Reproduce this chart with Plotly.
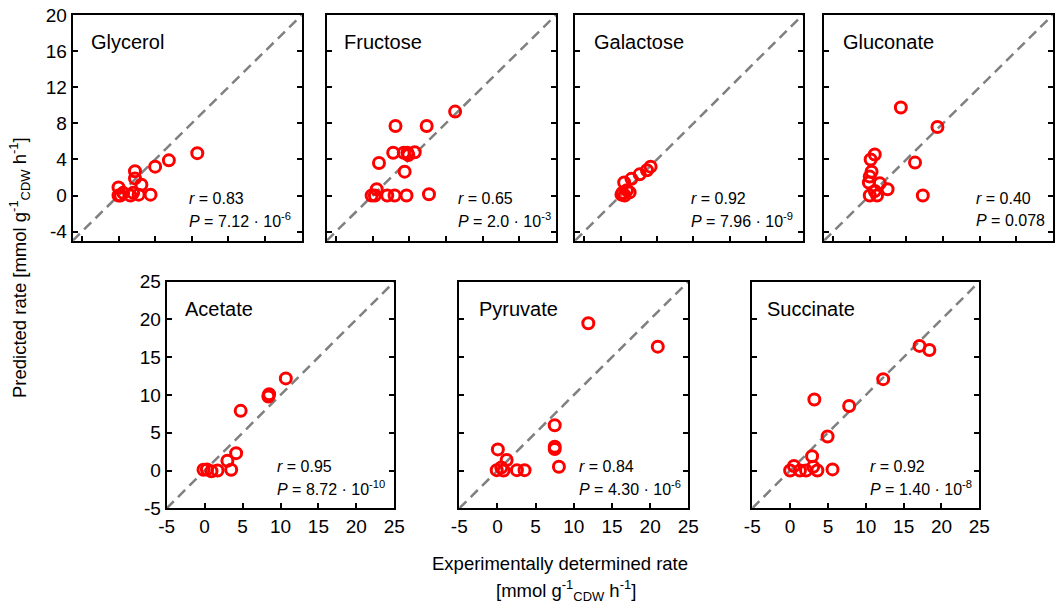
import plotly.graph_objects as go

# ---------------- data ----------------
names = ["Glycerol", "Fructose", "Galactose", "Gluconate", "Acetate", "Pyruvate", "Succinate"]

glycerol_x = [8.6, 5.5, 4.0, 1.8, 1.8, 2.5, 3.5, 0.0, 0.5, 0.0, 1.3, 2.2, 0.2, 1.6]
glycerol_y = [4.7, 3.9, 3.2, 2.7, 1.9, 1.2, 0.1, 0.9, 0.3, 0.0, 0.0, 0.1, 0.0, 0.3]

fructose_x = [9.0, 5.9, 2.5, 2.25, 3.4, 3.9, 4.6, 3.8, 0.7, 3.5, 0.45, -0.1, 0.25, 1.6, 2.4, 3.7, 6.15]
fructose_y = [9.3, 7.7, 7.7, 4.75, 4.75, 4.5, 4.8, 4.75, 3.6, 2.65, 0.7, 0.0, 0.0, 0.0, 0.0, 0.0, 0.15]

galactose_x = [3.3, 2.9, 2.1, 1.2, 0.4, 1.0, 0.1, 0.45, 0.2, 0.7]
galactose_y = [3.2, 2.8, 2.35, 1.85, 1.45, 0.35, 0.1, 0.0, 0.3, 0.6]

gluconate_x = [3.4, 7.4, 4.95, 5.8, 0.55, 0.1, 0.2, 0.0, -0.1, 1.1, 1.95, 0.55, 0.0, 0.8]
gluconate_y = [9.75, 7.6, 3.65, 0.0, 4.55, 4.0, 2.65, 2.1, 1.45, 1.35, 0.7, 0.5, 0.0, 0.0]

acetate_x = [10.7, 8.5, 8.4, 4.75, 4.15, 3.0, 3.5, 1.7, 0.3, -0.15, 0.9]
acetate_y = [12.2, 10.1, 9.8, 7.9, 2.3, 1.3, 0.1, 0.0, 0.15, 0.1, -0.1]

pyruvate_x = [11.9, 21.0, 7.5, 7.5, 7.5, 8.05, 0.05, 1.2, 3.55, 2.55, 0.5, -0.1, 0.8]
pyruvate_y = [19.5, 16.4, 6.0, 3.15, 2.85, 0.5, 2.8, 1.4, 0.05, 0.05, 0.4, 0.05, 0.0]

succinate_x = [17.1, 18.4, 12.3, 3.2, 7.8, 4.95, 2.9, 3.05, 0.5, 0.0, 1.3, 2.1, 3.6, 5.6]
succinate_y = [16.5, 15.95, 12.1, 9.4, 8.55, 4.5, 1.9, 0.5, 0.6, 0.0, 0.0, 0.0, 0.0, 0.15]

r_labels = ["0.83", "0.65", "0.92", "0.40", "0.95", "0.84", "0.92"]
p_labels = ["7.12 · 10<sup>-6</sup>", "2.0 · 10<sup>-3</sup>", "7.96 · 10<sup>-9</sup>", "0.078",
            "8.72 · 10<sup>-10</sup>", "4.30 · 10<sup>-6</sup>", "1.40 · 10<sup>-8</sup>"]

top_range = [-5, 20]
top_ticks = [-4, 0, 4, 8, 12, 16, 20]
top_ticktext = ["-4", "0", "4", "8", "12", "16", "20"]
bottom_range = [-5, 25]
bottom_ticks = [-5, 0, 5, 10, 15, 20, 25]
bottom_ticktext = ["-5", "0", "5", "10", "15", "20", "25"]

xs = [glycerol_x, fructose_x, galactose_x, gluconate_x, acetate_x, pyruvate_x, succinate_x]
ys = [glycerol_y, fructose_y, galactose_y, gluconate_y, acetate_y, pyruvate_y, succinate_y]

# ---------------- layout geometry ----------------
W, H = 1056, 605
top_px = [(72.7, 301.7), (326.7, 556.0), (575.0, 802.7), (824.0, 1052.7)]
bot_px = [(166.7, 394.3), (459.3, 688.3), (752.3, 979.3)]
top_y_px = (15.0, 240.7)
bot_y_px = (281.7, 508.3)

def xd(a, b):
    return [a / W, b / W]

def yd(t, b):
    return [1 - b / H, 1 - t / H]

domains = []
for a, b in top_px:
    domains.append((xd(a, b), yd(*top_y_px)))
for a, b in bot_px:
    domains.append((xd(a, b), yd(*bot_y_px)))

r_xpos = [0.50, 0.563, 0.50, 0.656, 0.475, 0.513, 0.511]
title_xpos = [0.072, 0.068, 0.073, 0.073, 0.07, 0.079, 0.056]

FONT = "Liberation Sans, Arial, sans-serif"
fig = go.Figure()
annotations = []
layout = {}

for i in range(7):
    idx = "" if i == 0 else str(i + 1)
    xa = "x" + idx
    ya = "y" + idx
    top = i < 4
    rng = top_range if top else bottom_range
    ticks = top_ticks if top else bottom_ticks
    ttext = top_ticktext if top else bottom_ticktext
    fig.add_trace(go.Scatter(x=rng, y=rng, mode="lines", xaxis=xa, yaxis=ya,
                             line=dict(color="#808080", width=2.5, dash="10px,6px"),
                             showlegend=False, hoverinfo="skip"))
    fig.add_trace(go.Scatter(x=xs[i], y=ys[i], mode="markers", xaxis=xa, yaxis=ya,
                             marker=dict(symbol="circle-open", size=11, color="#FF0000",
                                         line=dict(width=3, color="#FF0000")),
                             showlegend=False))
    show_x_labels = not top
    show_y_labels = (i == 0) or (i == 4)
    xdom, ydom = domains[i]
    layout["xaxis" + idx] = dict(domain=xdom, range=rng, tickvals=ticks, ticktext=ttext,
                                 showticklabels=show_x_labels, anchor=ya, automargin=False,
                                 showline=True, linecolor="black", linewidth=2.2, mirror=True,
                                 ticks="inside", ticklen=5, tickwidth=2, tickcolor="black",
                                 showgrid=False, zeroline=False,
                                 tickfont=dict(size=19, color="black", family=FONT))
    layout["yaxis" + idx] = dict(domain=ydom, range=rng, tickvals=ticks, ticktext=ttext,
                                 showticklabels=show_y_labels, anchor=xa, automargin=False,
                                 showline=True, linecolor="black", linewidth=2.2, mirror="ticks",
                                 ticks="inside", ticklen=5, tickwidth=2, tickcolor="black",
                                 showgrid=False, zeroline=False,
                                 tickfont=dict(size=19, color="black", family=FONT))
    annotations.append(dict(text=names[i], xref=xa + " domain", yref=ya + " domain",
                            x=title_xpos[i], y=0.88, xanchor="left", yanchor="middle",
                            showarrow=False, font=dict(size=20, color="black", family=FONT)))
    annotations.append(dict(text="<i>r</i> = " + r_labels[i], xref=xa + " domain", yref=ya + " domain",
                            x=r_xpos[i], y=0.185, xanchor="left", yanchor="middle",
                            showarrow=False, font=dict(size=16, color="black", family=FONT)))
    annotations.append(dict(text="<i>P</i> = " + p_labels[i], xref=xa + " domain", yref=ya + " domain",
                            x=r_xpos[i], y=0.09, xanchor="left", yanchor="middle",
                            showarrow=False, font=dict(size=16, color="black", family=FONT)))

annotations.append(dict(text="Predicted rate [mmol g<sup>-1</sup><sub>CDW</sub> h<sup>-1</sup>]",
                        xref="paper", yref="paper", x=20 / W, y=1 - 268 / H, textangle=-90,
                        xanchor="center", yanchor="middle", showarrow=False,
                        font=dict(size=18.5, color="black", family=FONT)))
annotations.append(dict(text="Experimentally determined rate",
                        xref="paper", yref="paper", x=560 / W, y=1 - 563 / H,
                        xanchor="center", yanchor="middle", showarrow=False,
                        font=dict(size=18.5, color="black", family=FONT)))
annotations.append(dict(text="[mmol g<sup>-1</sup><sub>CDW</sub> h<sup>-1</sup>]",
                        xref="paper", yref="paper", x=566 / W, y=1 - 590 / H,
                        xanchor="center", yanchor="middle", showarrow=False,
                        font=dict(size=18.5, color="black", family=FONT)))

fig.update_layout(width=W, height=H, margin=dict(l=0, r=0, t=0, b=0),
                  paper_bgcolor="white", plot_bgcolor="white",
                  annotations=annotations, showlegend=False,
                  font=dict(family=FONT, color="black"), **layout)

fig.write_html("out.html")
